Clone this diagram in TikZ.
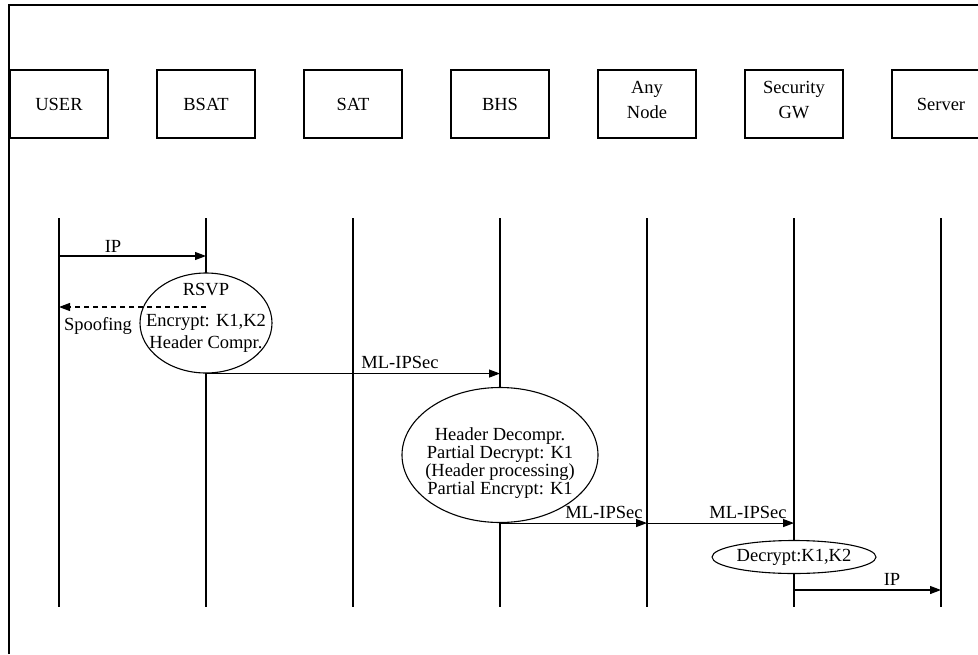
\documentclass[tikz,border=0pt]{standalone}
\usepackage{fontspec}
\setmainfont{Liberation Serif}
\usetikzlibrary{arrows.meta,shapes.geometric}
\begin{document}
\begin{tikzpicture}[x=1pt,y=-1pt,
  every node/.style={font=\fontsize{18.5}{23}\selectfont},
  entity/.style={draw,line width=1.2pt,minimum width=98pt,minimum height=68pt,
    inner sep=0pt,align=center},
  twoline/.style={label={[inner sep=0pt,align=center,yshift=4pt,
    font=\fontsize{18.5}{25}\selectfont]center:#1}},
  life/.style={line width=1.2pt},
  proc/.style={ellipse,draw,line width=1.1pt,fill=white,inner sep=0pt},
  msg/.style={line width=1.1pt,-{Triangle[length=11pt,width=8pt]}},
  spoof/.style={msg,dash pattern=on 5pt off 4pt},
  lbl/.style={inner sep=0pt}]
\clip (0,0) rectangle (978,654);
\useasboundingbox (0,0) rectangle (978,654);

% outer frame (top and left edges)
\draw[line width=1.1pt] (9,654) -- (9,5) -- (978,5);

% entities
\node[entity] (user) at (59,104) {USER};
\node[entity] (bsat) at (206,104) {BSAT};
\node[entity] (sat)  at (353,104) {SAT};
\node[entity] (bhs)  at (500,104) {BHS};
\node[entity,twoline={Any\\Node}] (any)  at (647,104) {};
\node[entity,twoline={Security\\GW}] (sgw)  at (794,104) {};
\node[entity] (srv)  at (941,104) {Server};

% lifelines
\foreach \n in {user,bsat,sat,bhs,any,sgw,srv}{
  \coordinate (\n-top) at (\n |- 0,218);
  \coordinate (\n-bot) at (\n |- 0,607);
  \draw[life] (\n-top) -- (\n-bot);
}

% processing steps
\node[proc,minimum width=132pt,minimum height=100pt] (rsvp) at (206,323) {};
\node[lbl] at (206,290) {RSVP};
\node[lbl,align=center,font=\fontsize{18.5}{22}\selectfont] at (206,333) {Encrypt: K1,K2\\Header Compr.};

\node[proc,minimum width=196pt,minimum height=135pt] (hdr) at (500,455) {};
\node[lbl,align=center,font=\fontsize{18.5}{18}\selectfont] at (500,463)
  {Header Decompr.\\Partial Decrypt: K1\\(Header processing)\\Partial Encrypt: K1};

\node[proc,minimum width=164pt,minimum height=33pt] (dec) at (794,557) {Decrypt:K1,K2};

% messages
\coordinate (m1a) at (user |- 0,256); \coordinate (m1b) at (bsat |- 0,256);
\draw[msg] (m1a) -- (m1b);
\node[lbl] at (113,246) {IP};

\coordinate (m2a) at (bsat |- 0,307); \coordinate (m2b) at (user |- 0,307);
\draw[spoof] (m2a) -- (m2b);
\node[lbl] at (98,326) {Spoofing};

\coordinate (m3a) at (bsat |- rsvp.south); \coordinate (m3b) at (bhs |- rsvp.south);
\draw[msg] (m3a) -- (m3b);
\node[lbl] at (400,362) {ML-IPSec};

\coordinate (m4a) at (bhs |- hdr.south); \coordinate (m4b) at (any |- hdr.south);
\draw[msg] (m4a) -- (m4b);
\node[lbl] at (604,512) {ML-IPSec};

\coordinate (m5a) at (any |- hdr.south); \coordinate (m5b) at (sgw |- hdr.south);
\draw[msg] (m5a) -- (m5b);
\node[lbl] at (748,512) {ML-IPSec};

\coordinate (m6a) at (sgw |- 0,590); \coordinate (m6b) at (srv |- 0,590);
\draw[msg] (m6a) -- (m6b);
\node[lbl] at (892,579) {IP};
\end{tikzpicture}
\end{document}
